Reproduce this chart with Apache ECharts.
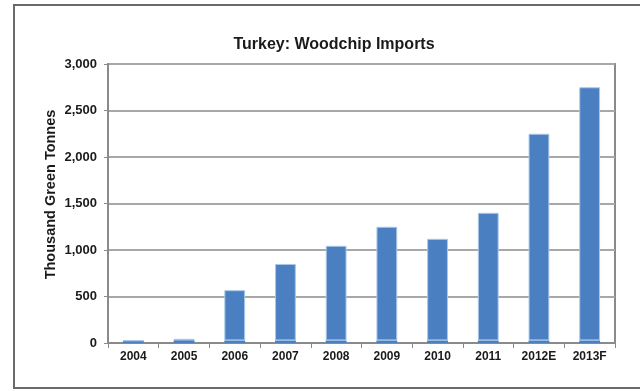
<!DOCTYPE html>
<html>
<head>
<meta charset="utf-8">
<script src="https://cdn.jsdelivr.net/npm/echarts@6/dist/echarts.min.js"></script>
<style>
  html, body { margin: 0; padding: 0; background: #fff; }
  #chart { width: 640px; height: 391px; }
</style>
</head>
<body>
<div id="chart"></div>
<script>
// Turkey woodchip imports, thousand green tonnes
const years = ['2004', '2005', '2006', '2007', '2008', '2009', '2010', '2011', '2012E', '2013F'];
const baseVolume = [25, 30, 28, 28, 28, 28, 28, 28, 28, 28];
const addedVolume = [0, 15, 540, 822, 1017, 1222, 1092, 1372, 2222, 2722];
const yTicks = [0, 500, 1000, 1500, 2000, 2500, 3000];

const FONT = '"Liberation Sans", Arial, sans-serif';
const BAR = '#4a80c2';
const EDGE = '#a9c7e8';

const chart = echarts.init(document.getElementById('chart'), null, { renderer: 'canvas' });

chart.setOption({
  animation: false,
  backgroundColor: '#fff',
  title: {
    text: 'Turkey: Woodchip Imports',
    left: 329,
    top: 32,
    textAlign: 'center',
    textStyle: { fontFamily: FONT, fontSize: 16, fontWeight: 'bold', color: '#1a1a1a' }
  },
  graphic: [{
    type: 'rect',
    shape: { x: 14, y: 5, width: 700, height: 383 },
    style: { fill: 'none', stroke: '#6a6a6a', lineWidth: 2 },
    silent: true,
    z: 0
  }],
  grid: {
    left: 108, right: 25, top: 64, bottom: 48,
    show: true,
    borderColor: '#8a8a8a',
    borderWidth: 2,
    backgroundColor: 'transparent'
  },
  xAxis: {
    type: 'category',
    data: years,
    boundaryGap: true,
    axisLine: { show: true, lineStyle: { color: '#8a8a8a', width: 2 } },
    axisTick: { show: true, alignWithLabel: false, length: 5, lineStyle: { color: '#8a8a8a', width: 1 } },
    axisLabel: { fontFamily: FONT, fontSize: 12, fontWeight: 'bold', color: '#1a1a1a', margin: 8 }
  },
  yAxis: {
    type: 'value',
    min: 0,
    max: 3000,
    interval: 500,
    name: 'Thousand Green Tonnes',
    nameLocation: 'middle',
    nameGap: 50,
    nameMoveOverlap: false,
    nameRotate: 90,
    nameTextStyle: {
      fontFamily: FONT, fontSize: 14.5, fontWeight: 'bold', color: '#1a1a1a',
      padding: [0, 0, 0, 18]
    },
    axisLine: { show: true, lineStyle: { color: '#8a8a8a', width: 2 } },
    axisTick: { show: true, length: 4, lineStyle: { color: '#8a8a8a' } },
    splitLine: { show: true, lineStyle: { color: '#a8a8a8', width: 2 } },
    axisLabel: {
      fontFamily: FONT, fontSize: 13, fontWeight: 'bold', color: '#1a1a1a', margin: 11,
      formatter: v => yTicks.includes(v) ? v.toLocaleString('en-US') : ''
    }
  },
  series: [
    {
      type: 'bar',
      stack: 'imports',
      data: baseVolume,
      barWidth: '41%',
      itemStyle: { color: BAR }
    },
    {
      type: 'bar',
      stack: 'imports',
      data: addedVolume,
      barWidth: '41%',
      itemStyle: { color: BAR, borderColor: EDGE, borderWidth: 1 }
    }
  ]
});
</script>
</body>
</html>
